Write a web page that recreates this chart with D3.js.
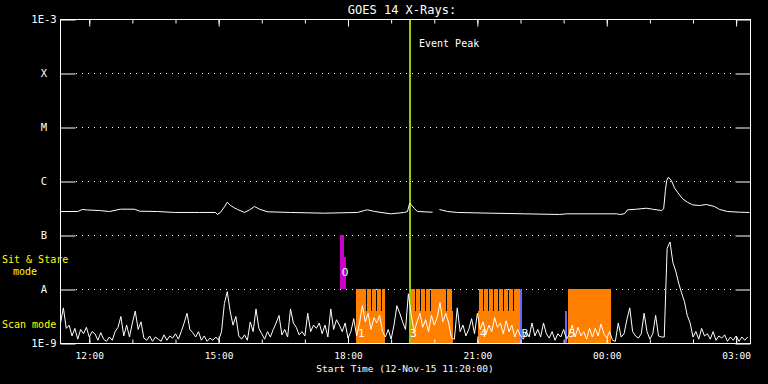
<!DOCTYPE html>
<html>
<head>
<meta charset="utf-8">
<script src="https://cdn.jsdelivr.net/npm/d3@7"></script>
<style>
  body { margin: 0; background: #000; }
  svg text { font-family: "DejaVu Sans Mono", monospace; fill: #fff; }
</style>
</head>
<body>
<script>
// GOES 14 long channel: hours UT counted from 12-Nov-15 00:00, flux in units of 1e-7 W/m2
var goesHour = [11.33, 11.73, 11.84, 11.96, 12.24, 12.47, 12.72, 13.05, 13.17, 13.58,
  13.98, 14.56, 14.93, 14.97, 15.04, 15.14, 15.20, 15.28, 15.37, 15.44,
  15.60, 15.72, 15.83, 15.95, 16.13, 16.67, 17.45, 18.22, 18.38, 18.45,
  18.62, 18.99, 19.31, 19.38, 19.43, 19.49, 19.54, 19.61, 19.96, 20.04,
  20.12, 20.31, 20.54, 21.31, 22.09, 22.91, 23.07, 24.23, 24.30, 24.41,
  24.48, 24.69, 24.92, 25.06, 25.27, 25.32, 25.36, 25.39, 25.43, 25.50,
  25.57, 25.64, 25.76, 25.87, 25.99, 26.15, 26.31, 26.50, 26.62, 26.80,
  27.08, 27.31];
var goesFlux = [2.78, 2.78, 3.03, 2.97, 2.90, 2.78, 3.07, 3.07, 2.82, 2.78,
  2.67, 2.67, 2.67, 2.45, 2.67, 3.44, 4.14, 3.59, 3.23, 3.03,
  2.67, 2.99, 3.44, 3.07, 2.75, 2.67, 2.59, 2.67, 2.90, 2.99,
  2.78, 2.52, 2.67, 2.78, 3.96, 3.52, 3.16, 2.78, 2.70, null,
  3.03, 2.78, 2.67, 2.59, 2.52, 2.45, 2.52, 2.52, 2.45, 2.52,
  2.99, 3.07, 3.20, 3.07, 2.90, 3.12, 6.81, 10.4, 12.0, 10.4,
  7.64, 6.34, 4.78, 4.14, 3.70, 3.59, 3.75, 3.44, 3.03, 2.78,
  2.70, 2.67];

// lower trace, one sample every 4 minutes from 11:20 (percent of panel)
var countStart = 11 + 20 / 60, countStep = 4 / 60;
var counts = [19, 33, 14, 17, 7, 14, 4, 13, 9, 15,
  6, 11, 9, 3, 10, 4, 2, 6, 3, 11,
  15, 25, 7, 17, 6, 19, 30, 13, 20, 5,
  3, 7, 2, 6, 4, 2, 8, 3, 7, 5,
  9, 4, 11, 19, 28, 13, 10, 6, 11, 3,
  7, 2, 5, 3, 6, 3, 11, 37, 48, 30,
  17, 25, 7, 4, 8, 3, 20, 11, 32, 14,
  9, 4, 11, 6, 13, 19, 26, 8, 13, 6,
  32, 19, 15, 8, 11, 7, 28, 11, 17, 14,
  19, 9, 17, 6, 32, 13, 22, 17, 11, 19,
  5, 11, 23, 7, 19, 35, 20, 28, 13, 24,
  19, 26, 11, 6, 13, 4, 17, 35, 28, 20,
  13, 46, 26, 11, 20, 28, 15, 22, 11, 26,
  17, 24, 38, 20, 28, 19, 5, 4, 33, 11,
  17, 7, 13, 23, 9, 28, 13, 20, 9, 17,
  11, 24, 15, 19, 9, 21, 11, 17, 6, 13,
  7, 4, 11, 6, 19, 7, 13, 6, 19, 9,
  5, 11, 3, 9, 6, 13, 4, 9, 17, 6,
  15, 7, 11, 4, 14, 6, 14, 7, 18, 9,
  5, 11, 3, 2, 19, 6, 9, 22, 33, 11,
  7, 5, 9, 28, 11, 4, 9, 26, 7, 6,
  6, 88, 94, 75, 67, 56, 47, 39, 26, 19,
  6, 11, 4, 14, 7, 9, 4, 11, 3, 7,
  5, 8, 2, 6, 3, 7, 2, 6, 3, 6];

var classFlux = [1e-9, 1e-8, 1e-7, 1e-6, 1e-5, 1e-4, 1e-3];
var classLabels = ["1E-9", "A", "B", "C", "M", "X", "1E-3"];

// observations: [start hour, end hour, fraction of lane]
var sitStare = [[17.803, 17.896, 1], [17.896, 17.965, 0.6]];
var scanBlocks = [[18.197, 18.869, 0.6], [19.426, 20.446, 0.6], [21.026, 21.977, 0.6], [23.090, 24.110, 1]];
var scanRasters = [
  [18.197, 18.290, 1], [18.313, 18.406, 1], [18.429, 18.522, 1], [18.545, 18.638, 1], [18.661, 18.754, 1], [18.777, 18.869, 1],
  [19.472, 19.565, 1], [19.588, 19.681, 1], [19.704, 19.797, 1], [19.820, 19.913, 1], [19.936, 20.029, 1], [20.052, 20.145, 1], [20.168, 20.261, 1], [20.307, 20.400, 1],
  [21.037, 21.130, 1], [21.153, 21.246, 1], [21.269, 21.362, 1], [21.385, 21.478, 1], [21.501, 21.594, 1], [21.617, 21.710, 1], [21.733, 21.826, 1], [21.849, 21.977, 1]];
var calib = [[21.977, 22.046, 1], [23.043, 23.083, 0.6]];

var obsLabel = ["O", "1", "3", "4", "B", "5"];
var obsLabelHour = [17.93, 18.31, 19.52, 21.14, 22.10, 23.19];
var obsLabelLane = [1, 0, 0, 0, 0, 0];

var eventPeak = 19.44;
var startHour = 11 + 20 / 60, endHour = 27 + 20 / 60;

function toDate(h) { return new Date(Date.UTC(2015, 10, 12) + h * 3600000); }

var svg = d3.select("body").append("svg")
  .attr("width", 768)
  .attr("height", 384)
  .style("background", "#000");

var x = d3.scaleUtc().domain([toDate(startHour), toDate(endHour)]).range([60.5, 750.5]);
var y = d3.scaleLog().domain([1e-9, 1e-3]).range([343.5, 19.5]);
var yLane = d3.scaleLinear().domain([0, 2]).range([343, 235]);
var yCount = d3.scaleLinear().domain([0, 100]).range([343.5, 235.5]);

// dotted class lines
svg.selectAll(".grid").data(classFlux.slice(1, 6)).enter().append("line")
  .attr("x1", 76).attr("x2", 736)
  .attr("y1", function(d) { return y(d); })
  .attr("y2", function(d) { return y(d); })
  .attr("stroke", "#fff")
  .attr("stroke-dasharray", "1,5");

function drawObs(data, color, lane) {
  svg.selectAll(null).data(data).enter().append("rect")
    .attr("x", function(d) { return Math.round(x(toDate(d[0]))); })
    .attr("width", function(d) {
      return Math.max(1, Math.round(x(toDate(d[1]))) - Math.round(x(toDate(d[0]))));
    })
    .attr("y", function(d) { return Math.round(yLane(lane + d[2])); })
    .attr("height", function(d) { return Math.round(yLane(lane)) - Math.round(yLane(lane + d[2])); })
    .attr("fill", color)
    .attr("shape-rendering", "crispEdges");
}
drawObs(sitStare, "#cc00cc", 1);
drawObs(scanBlocks, "#ff8000", 0);
drawObs(scanRasters, "#ff8000", 0);
drawObs(calib, "#6464ff", 0);

// event peak
svg.append("line")
  .attr("x1", Math.round(x(toDate(eventPeak)))).attr("x2", Math.round(x(toDate(eventPeak))))
  .attr("y1", 19.5).attr("y2", 343.5)
  .attr("stroke", "#99cc00")
  .attr("stroke-width", 2);

// lower trace
var countData = counts.map(function(v, i) { return { t: toDate(countStart + i * countStep), v: v }; });
svg.append("path")
  .datum(countData)
  .attr("fill", "none")
  .attr("stroke", "#fff")
  .attr("stroke-width", 1)
  .attr("d", d3.line().x(function(d) { return x(d.t); }).y(function(d) { return yCount(d.v); }));

// GOES trace
var goesData = goesHour.map(function(h, i) { return { t: toDate(h), f: goesFlux[i] }; });
svg.append("path")
  .datum(goesData)
  .attr("fill", "none")
  .attr("stroke", "#fff")
  .attr("stroke-width", 1)
  .attr("d", d3.line()
    .defined(function(d) { return d.f != null; })
    .x(function(d) { return x(d.t); })
    .y(function(d) { return y(d.f * 1e-7); }));

// observation labels
svg.selectAll(".obsl").data(obsLabel).enter().append("text")
  .attr("x", function(d, i) { return x(toDate(obsLabelHour[i])); })
  .attr("y", function(d, i) { return obsLabelLane[i] ? 276 : 337; })
  .attr("text-anchor", "middle")
  .attr("font-size", 11)
  .text(function(d) { return d; });

// frame
svg.append("rect")
  .attr("x", 60.5).attr("y", 19.5)
  .attr("width", 690).attr("height", 324)
  .attr("fill", "none")
  .attr("stroke", "#fff");

function clean(g) { g.select(".domain").remove(); }

svg.append("g").attr("transform", "translate(0,19.5)").attr("color", "#fff")
  .call(d3.axisBottom(x).ticks(d3.utcHour.every(1)).tickSize(4).tickFormat(""))
  .call(clean);
svg.append("g").attr("transform", "translate(0,19.5)").attr("color", "#fff")
  .call(d3.axisBottom(x).ticks(d3.utcHour.every(3)).tickSize(7).tickFormat(""))
  .call(clean);
svg.append("g").attr("transform", "translate(0,343.5)").attr("color", "#fff")
  .call(d3.axisTop(x).ticks(d3.utcHour.every(1)).tickSize(4).tickFormat(""))
  .call(clean);
svg.append("g").attr("transform", "translate(0,343.5)").attr("color", "#fff")
  .call(d3.axisTop(x).ticks(d3.utcHour.every(3)).tickSize(7).tickFormat(""))
  .call(clean);

// time labels
svg.append("g").attr("transform", "translate(0,343.5)").attr("color", "#fff")
  .call(d3.axisBottom(x).ticks(d3.utcHour.every(3)).tickSize(0).tickPadding(9)
    .tickFormat(d3.utcFormat("%H:%M")))
  .call(clean)
  .attr("font-size", 9.5);

// class axis
svg.append("g").attr("transform", "translate(60.5,0)").attr("color", "#fff")
  .call(d3.axisLeft(y).tickValues(classFlux).tickSize(-15)
    .tickFormat(function(d, i) { return classLabels[i]; }))
  .call(clean)
  .attr("font-size", 10.5)
  .selectAll("text").attr("x", -16.5).attr("text-anchor", "middle");
svg.append("g").attr("transform", "translate(750.5,0)").attr("color", "#fff")
  .call(d3.axisRight(y).tickValues(classFlux).tickSize(-15).tickFormat(""))
  .call(clean);

// texts
svg.append("text").attr("x", 402).attr("y", 14).attr("text-anchor", "middle")
  .attr("font-size", 12).text("GOES 14 X-Rays:");
svg.append("text").attr("x", 419).attr("y", 47)
  .attr("font-size", 10).text("Event Peak");
svg.append("text").attr("x", 405).attr("y", 371.5).attr("text-anchor", "middle")
  .attr("font-size", 9.5).text("Start Time (12-Nov-15 11:20:00)");

svg.append("text").attr("x", 2).attr("y", 263).attr("font-size", 10)
  .style("fill", "#ffff00").text("Sit & Stare");
svg.append("text").attr("x", 13).attr("y", 274.5).attr("font-size", 10)
  .style("fill", "#ffff00").text("mode");
svg.append("text").attr("x", 2).attr("y", 328).attr("font-size", 10)
  .style("fill", "#ffff00").text("Scan mode");
</script>
</body>
</html>
